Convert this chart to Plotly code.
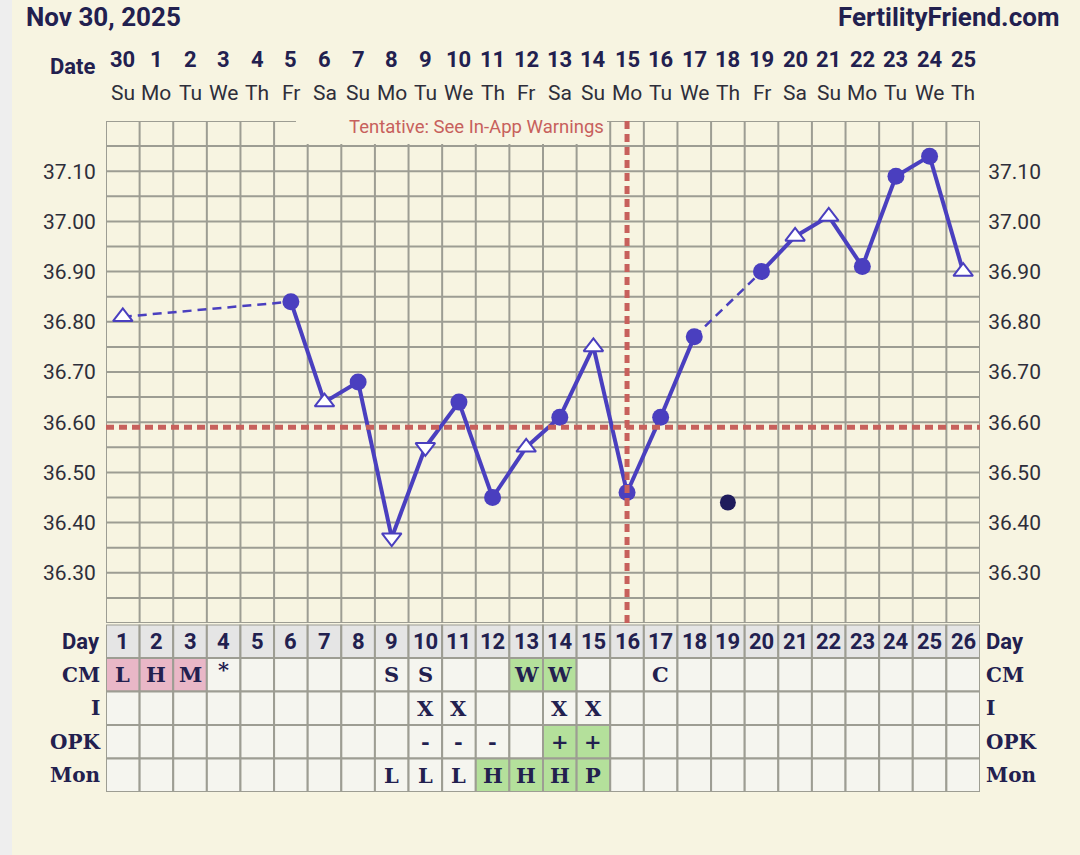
import plotly.graph_objects as go

W, H = 1080, 855

# ---- cycle data -------------------------------------------------------
cycle_days = list(range(1, 27))
dates = ["30", "1", "2", "3", "4", "5", "6", "7", "8", "9", "10", "11", "12",
         "13", "14", "15", "16", "17", "18", "19", "20", "21", "22", "23", "24", "25"]
weekdays = ["Su", "Mo", "Tu", "We", "Th", "Fr", "Sa", "Su", "Mo", "Tu", "We", "Th", "Fr",
            "Sa", "Su", "Mo", "Tu", "We", "Th", "Fr", "Sa", "Su", "Mo", "Tu", "We", "Th"]

# basal temperatures (None = not recorded)
temps = [36.81, None, None, None, None, 36.84, 36.64, 36.68, 36.37, 36.55,
         36.64, 36.45, 36.55, 36.61, 36.75, 36.46, 36.61, 36.77, None, 36.90,
         36.97, 37.01, 36.91, 37.09, 37.13, 36.90]
# "o" normal reading, "^" / "v" flagged reading
temp_flags = ["^", "", "", "", "", "o", "^", "o", "v", "v",
              "o", "o", "^", "o", "^", "o", "o", "o", "", "o",
              "^", "^", "o", "o", "o", "^"]

discarded_day = 19
discarded_temp = 36.44
coverline = 36.59
ovulation_day = 16

y_labels = [36.30, 36.40, 36.50, 36.60, 36.70, 36.80, 36.90, 37.00, 37.10]

row_names = ["Day", "CM", "I", "OPK", "Mon"]
cm_row = ["L", "H", "M", "*", "", "", "", "", "S", "S", "", "", "W", "W", "", "",
          "C", "", "", "", "", "", "", "", "", ""]
intercourse_row = ["", "", "", "", "", "", "", "", "", "X", "X", "", "", "X", "X", "",
                   "", "", "", "", "", "", "", "", "", ""]
opk_row = ["", "", "", "", "", "", "", "", "", "-", "-", "-", "", "+", "+", "",
           "", "", "", "", "", "", "", "", "", ""]
mon_row = ["", "", "", "", "", "", "", "", "L", "L", "L", "H", "H", "H", "P", "",
           "", "", "", "", "", "", "", "", "", ""]

# ---- styling ----------------------------------------------------------
BG = "#f7f4e1"
GRID = "#9d9d93"
NAVY = "#22204f"
PURPLE = "#4a3fbf"
RED = "#c7605c"
PINK = "#e9b7c7"
GREEN = "#b4e09b"
CELL = "#f5f5ef"
DAYCELL = "#e5e5e5"
SANS = "Roboto"
SLAB = "DejaVu Serif"

X0_PX, X1_PX = 106, 980      # chart left / right edge
Y0_PX, Y1_PX = 121, 623      # chart top / bottom edge
Y_MIN, Y_MAX = 36.20, 37.20


def fx(p):
    return p / W


def fy(p):
    return 1 - p / H


def data_x(p):
    return 0.5 + (p - X0_PX) * 26 / (X1_PX - X0_PX)


def data_y(p):
    return Y_MIN + (Y1_PX - p) * (Y_MAX - Y_MIN) / (Y1_PX - Y0_PX)


fig = go.Figure()

# temperature line: consecutive days solid, gaps dashed
recorded = [(d, t) for d, t in zip(cycle_days, temps) if t is not None]
solid_x, solid_y, dash_x, dash_y = [], [], [], []
for (d1, t1), (d2, t2) in zip(recorded[:-1], recorded[1:]):
    if d2 - d1 == 1:
        solid_x += [d1, d2, None]
        solid_y += [t1, t2, None]
    else:
        dash_x += [d1, d2, None]
        dash_y += [t1, t2, None]

fig.add_trace(go.Scatter(x=dash_x, y=dash_y, mode="lines",
                         line=dict(color=PURPLE, width=2.5, dash="9px,6px"),
                         hoverinfo="skip", showlegend=False))
fig.add_trace(go.Scatter(x=solid_x, y=solid_y, mode="lines",
                         line=dict(color=PURPLE, width=4),
                         hoverinfo="skip", showlegend=False))

# markers
for flag, symbol, size, fill, lw in [("o", "circle", 17, PURPLE, 0),
                                     ("^", "triangle-up", 17, "white", 2),
                                     ("v", "triangle-down", 17, "white", 2)]:
    xs = [d for d, t, f in zip(cycle_days, temps, temp_flags) if t is not None and f == flag]
    ys = [t for d, t, f in zip(cycle_days, temps, temp_flags) if t is not None and f == flag]
    fig.add_trace(go.Scatter(x=xs, y=ys, mode="markers",
                             marker=dict(symbol=symbol, size=size, color=fill,
                                         line=dict(color=PURPLE, width=lw)),
                             showlegend=False))

fig.add_trace(go.Scatter(x=[discarded_day], y=[discarded_temp], mode="markers",
                         marker=dict(symbol="circle", size=16, color="#1f1c5c"),
                         showlegend=False))

# ---- shapes -----------------------------------------------------------
shapes = []
# left strip
shapes.append(dict(type="rect", xref="paper", yref="paper", x0=0, x1=fx(12), y0=0, y1=1,
                   fillcolor="#eeeeee", line=dict(width=0), layer="below"))
# chart grid
for i in range(27):
    shapes.append(dict(type="line", xref="x", yref="y", x0=0.5 + i, x1=0.5 + i,
                       y0=Y_MIN, y1=data_y(118), line=dict(color=GRID, width=2), layer="below"))
for i in range(21):
    yv = round(Y_MIN + 0.05 * i, 2)
    shapes.append(dict(type="line", xref="x", yref="y", x0=0.5, x1=26.5,
                       y0=yv, y1=yv, line=dict(color=GRID, width=2), layer="below"))
# backdrop behind the warning note
shapes.append(dict(type="rect", xref="x", yref="y", x0=data_x(296), x1=data_x(607),
                   y0=data_y(144), y1=data_y(110), fillcolor=BG, line=dict(width=0),
                   layer="below"))
# coverline and ovulation line
shapes.append(dict(type="line", xref="x", yref="y", x0=0.5, x1=26.5, y0=coverline, y1=coverline,
                   line=dict(color=RED, width=5, dash="8px,5px"), layer="above"))
shapes.append(dict(type="line", xref="x", yref="y", x0=ovulation_day, x1=ovulation_day,
                   y0=Y_MIN, y1=Y_MAX, line=dict(color=RED, width=5, dash="8px,5px"),
                   layer="above"))

# ---- chart table ------------------------------------------------------
table_rows = [[str(d) for d in cycle_days], cm_row, intercourse_row, opk_row, mon_row]
highlight = {
    1: {"L": PINK, "H": PINK, "M": PINK, "W": GREEN},
    3: {"+": GREEN},
    4: {"H": GREEN, "P": GREEN},
}
annotations = []
for r, row in enumerate(table_rows):
    for d, val in zip(cycle_days, row):
        fill = DAYCELL if r == 0 else highlight.get(r, {}).get(val, CELL)
        shapes.append(dict(type="rect", xref="x", yref="y3", x0=d - 0.5, x1=d + 0.5,
                           y0=r, y1=r + 1, fillcolor=fill,
                           line=dict(color=GRID, width=2), layer="below"))
        if val:
            if r == 0:
                font = dict(family=SANS, size=22, color=NAVY)
            else:
                font = dict(family=SLAB, size=21, color=NAVY)
            annotations.append(dict(xref="x", yref="y3", x=d, y=r + 0.5,
                                    text="<b>%s</b>" % val, yanchor="middle",
                                    showarrow=False, font=font,
                                    yshift=5 if val == "*" else 0))
    label_font = dict(family=SANS if r == 0 else SLAB, size=22 if r == 0 else 20, color=NAVY)
    annotations.append(dict(xref="paper", yref="y3", x=fx(102), y=r + 0.5, xanchor="right",
                            yanchor="middle", text="<b>%s</b>" % row_names[r],
                            showarrow=False, font=label_font))
    annotations.append(dict(xref="paper", yref="y3", x=fx(984), y=r + 0.5, xanchor="left",
                            yanchor="middle", text="<b>%s</b>" % row_names[r],
                            showarrow=False, font=label_font))

# ---- header -----------------------------------------------------------
for d, dt, wd in zip(cycle_days, dates, weekdays):
    annotations.append(dict(xref="x", yref="paper", x=d, y=fy(59), yanchor="middle",
                            text="<b>%s</b>" % dt, showarrow=False,
                            font=dict(family=SANS, size=22, color=NAVY)))
    annotations.append(dict(xref="x", yref="paper", x=d, y=fy(93), yanchor="middle",
                            text=wd, showarrow=False,
                            font=dict(family=SANS, size=21, color="#2e2e3a")))
annotations.append(dict(xref="paper", yref="paper", x=fx(98), y=fy(67), xanchor="right",
                        yanchor="middle", text="<b>Date</b>", showarrow=False,
                        font=dict(family=SANS, size=22, color=NAVY)))
annotations.append(dict(xref="paper", yref="paper", x=fx(24), y=fy(17), xanchor="left",
                        yanchor="middle", text="<b>Nov 30, 2025</b>", showarrow=False,
                        font=dict(family=SANS, size=26, color=NAVY)))
annotations.append(dict(xref="paper", yref="paper", x=fx(1061), y=fy(17), xanchor="right",
                        yanchor="middle", text="<b>FertilityFriend.com</b>", showarrow=False,
                        font=dict(family=SANS, size=26, color=NAVY)))
annotations.append(dict(xref="paper", yref="paper", x=fx(476), y=fy(127), yanchor="middle",
                        text="Tentative: See In-App Warnings", showarrow=False,
                        font=dict(family=SANS, size=18.5, color=RED)))

yaxis_common = dict(range=[Y_MIN, Y_MAX], tickvals=y_labels,
                    ticktext=["%.2f" % v for v in y_labels],
                    showgrid=False, zeroline=False, showline=False,
                    ticks="outside", tickcolor="rgba(0,0,0,0)",
                    tickfont=dict(family=SANS, size=21, color="#2e2e3a"),
                    automargin=False, domain=[fy(Y1_PX), fy(Y0_PX)])

fig.update_layout(
    width=W, height=H,
    margin=dict(l=0, r=0, t=0, b=0),
    paper_bgcolor=BG, plot_bgcolor=BG,
    showlegend=False,
    xaxis=dict(domain=[fx(X0_PX), fx(X1_PX)], range=[0.5, 26.5], showgrid=False,
               zeroline=False, showticklabels=False, ticks="", automargin=False),
    yaxis=dict(side="left", ticklen=5, **yaxis_common),
    yaxis2=dict(side="right", overlaying="y", anchor="x", ticklen=3, **yaxis_common),
    yaxis3=dict(domain=[fy(792), fy(624.5)], range=[5, 0], visible=False,
                anchor="x", automargin=False),
    shapes=shapes,
    annotations=annotations,
)

# mirror axis for right-hand labels
fig.add_trace(go.Scatter(x=[None], y=[None], yaxis="y2", showlegend=False, hoverinfo="skip"))

fig.write_html("out.html")
